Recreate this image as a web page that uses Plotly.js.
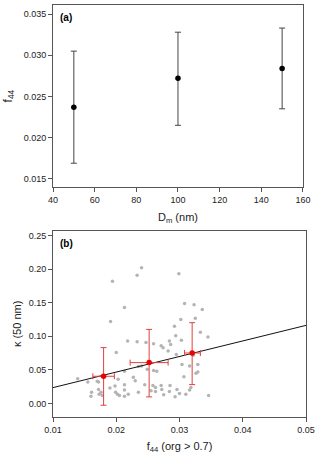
<!DOCTYPE html>
<html>
<head>
<meta charset="utf-8">
<script src="https://cdn.plot.ly/plotly-3.0.1.min.js"></script>
<style>
  html, body { margin: 0; padding: 0; background: #fff; }
  #chart { width: 320px; height: 456px; }
</style>
</head>
<body>
<div id="chart"></div>
<script>
// --- panel (a): f44 vs particle size ---
const sizeNm = [50, 100, 150];
const f44Mean = [0.0237, 0.0272, 0.0284];
const f44Lo = [0.0169, 0.0215, 0.0235];
const f44Hi = [0.0305, 0.0328, 0.0333];

// --- panel (b): kappa(50 nm) vs f44 ---
const scatX = [
  0.0240, 0.0233, 0.0194, 0.0299, 0.0213, 0.0191, 0.0308, 0.0323, 0.0336, 0.0302,
  0.0325, 0.0292, 0.0294, 0.0333, 0.0345, 0.0303, 0.0284, 0.0218, 0.0233, 0.0247,
  0.0259, 0.0271, 0.0274, 0.0286, 0.0282, 0.0200, 0.0295, 0.0322, 0.0304, 0.0329,
  0.0316, 0.0329, 0.0259, 0.0264, 0.0249, 0.0240, 0.0235, 0.0213, 0.0203, 0.0139,
  0.0155, 0.0170, 0.0172, 0.0161, 0.0160, 0.0172, 0.0176, 0.0178, 0.0173, 0.0190,
  0.0198, 0.0199, 0.0202, 0.0205, 0.0213, 0.0213, 0.0213, 0.0219, 0.0227, 0.0230,
  0.0235, 0.0245, 0.0255, 0.0258, 0.0262, 0.0262, 0.0271, 0.0272, 0.0275, 0.0284,
  0.0285, 0.0293, 0.0296, 0.0300, 0.0310, 0.0316, 0.0318, 0.0307, 0.0346, 0.0326
];
const scatY = [
  0.202, 0.191, 0.182, 0.193, 0.143, 0.122, 0.149, 0.147, 0.140, 0.125,
  0.127, 0.115, 0.101, 0.106, 0.099, 0.094, 0.093, 0.093, 0.092, 0.091,
  0.089, 0.086, 0.083, 0.088, 0.078, 0.076, 0.073, 0.072, 0.058, 0.058,
  0.056, 0.047, 0.049, 0.048, 0.051, 0.056, 0.055, 0.048, 0.036, 0.037,
  0.032, 0.033, 0.032, 0.017, 0.011, 0.021, 0.017, 0.012, 0.014, 0.023,
  0.026, 0.017, 0.014, 0.012, 0.028, 0.020, 0.011, 0.014, 0.039, 0.034,
  0.017, 0.028, 0.019, 0.027, 0.024, 0.018, 0.027, 0.021, 0.013, 0.018,
  0.027, 0.010, 0.021, 0.015, 0.014, 0.020, 0.024, 0.040, 0.012, 0.045
];

// binned means with x/y spread
const binX = [0.0180, 0.0252, 0.0320];
const binXLo = [0.0163, 0.0222, 0.0308];
const binXHi = [0.0197, 0.0282, 0.0333];
const binY = [0.0406, 0.0609, 0.0752];
const binYLo = [-0.0025, 0.0099, 0.0282];
const binYHi = [0.0832, 0.1103, 0.1203];

// fitted line
const fitX = [0.01, 0.05];
const fitY = [0.0237, 0.1163];

const up = (hi, m) => hi.map((v, i) => v - m[i]);
const down = (lo, m) => lo.map((v, i) => m[i] - v);

const traceA = {
  x: sizeNm, y: f44Mean, type: 'scatter', mode: 'markers',
  xaxis: 'x', yaxis: 'y',
  marker: { color: '#000', size: 5.5 },
  error_y: { type: 'data', symmetric: false, array: up(f44Hi, f44Mean), arrayminus: down(f44Lo, f44Mean),
    color: '#444', thickness: 1, width: 3 }
};

const traceScat = {
  x: scatX, y: scatY, type: 'scatter', mode: 'markers',
  xaxis: 'x2', yaxis: 'y2',
  marker: { color: '#b4b4b4', size: 3.5 }
};

const traceFit = {
  x: fitX, y: fitY, type: 'scatter', mode: 'lines',
  xaxis: 'x2', yaxis: 'y2',
  line: { color: '#111', width: 1 }
};

const traceBins = {
  x: binX, y: binY, type: 'scatter', mode: 'markers',
  xaxis: 'x2', yaxis: 'y2',
  marker: { color: '#ee0000', size: 5.5 },
  error_y: { type: 'data', symmetric: false, array: up(binYHi, binY), arrayminus: down(binYLo, binY),
    color: '#e04040', thickness: 1, width: 3 },
  error_x: { type: 'data', symmetric: false, array: up(binXHi, binX), arrayminus: down(binXLo, binX),
    color: '#e04040', thickness: 1, width: 3 }
};

const tickFont = { family: 'Liberation Sans, Arial, sans-serif', size: 9, color: '#222' };
const titleFont = { family: 'Liberation Sans, Arial, sans-serif', size: 11, color: '#222' };

const axisBase = {
  showgrid: false, zeroline: false, showline: true, mirror: true,
  linecolor: '#555', linewidth: 1, ticks: 'outside', ticklen: 4, tickcolor: '#555',
  tickfont: tickFont
};

const layout = {
  width: 320, height: 456,
  margin: { l: 53, r: 14, t: 5, b: 39 },
  paper_bgcolor: '#fff', plot_bgcolor: '#fff',
  showlegend: false,
  xaxis: Object.assign({}, axisBase, {
    domain: [0, 0.988], anchor: 'y', range: [40, 160], dtick: 20, tick0: 40,
    title: { text: 'D<sub>m</sub> (nm)', font: titleFont, standoff: 9 }
  }),
  yaxis: Object.assign({}, axisBase, {
    domain: [0.558, 1], anchor: 'x', range: [0.014, 0.0361], dtick: 0.005, tick0: 0.015,
    tickformat: '.3f',
    title: { text: 'f<sub>44</sub>', font: { family: titleFont.family, size: 12, color: '#222' }, standoff: 8 }
  }),
  xaxis2: Object.assign({}, axisBase, {
    domain: [0, 1], anchor: 'y2', range: [0.01, 0.05], dtick: 0.01, tick0: 0.01,
    tickformat: '.2f',
    title: { text: 'f<sub>44</sub> (org > 0.7)', font: titleFont, standoff: 8 }
  }),
  yaxis2: Object.assign({}, axisBase, {
    domain: [0, 0.452], anchor: 'x2', range: [-0.02, 0.257], dtick: 0.05, tick0: 0,
    tickformat: '.2f',
    title: { text: 'κ (50 nm)', font: titleFont, standoff: 4 }
  }),
  annotations: [
    { text: '<b>(a)</b>', xref: 'x domain', yref: 'y domain', x: 0.02, y: 0.97,
      xanchor: 'left', yanchor: 'top', showarrow: false, font: { family: 'Liberation Sans, Arial, sans-serif', size: 10, color: '#000' } },
    { text: '<b>(b)</b>', xref: 'x2 domain', yref: 'y2 domain', x: 0.02, y: 0.97,
      xanchor: 'left', yanchor: 'top', showarrow: false, font: { family: 'Liberation Sans, Arial, sans-serif', size: 10, color: '#000' } }
  ]
};

Plotly.newPlot('chart', [traceA, traceScat, traceFit, traceBins], layout, { staticPlot: true, displayModeBar: false });
</script>
</body>
</html>
